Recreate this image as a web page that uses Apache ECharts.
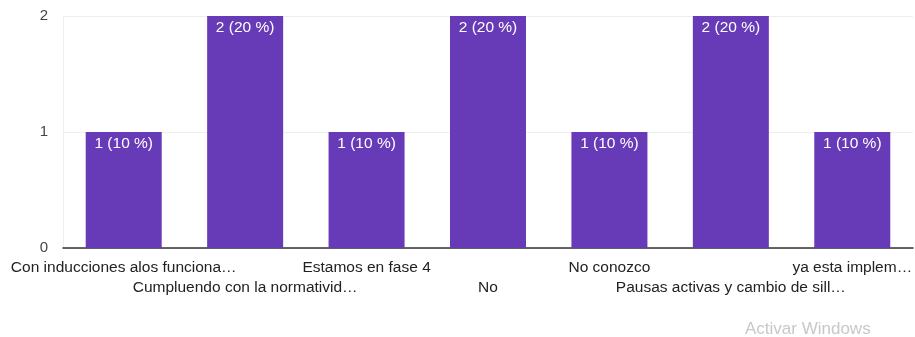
<!DOCTYPE html>
<html><head><meta charset="utf-8">
<script src="https://cdn.jsdelivr.net/npm/echarts@6/dist/echarts.min.js"></script>
<style>html,body{margin:0;padding:0;background:#fff}#c{width:915px;height:337px}</style>
</head><body><div id="c"></div>
<script>
const categories = ["Con inducciones alos funciona…","Cumpluendo con la normativid…","Estamos en fase 4","No","No conozco","Pausas activas y cambio de sill…","ya esta implem…"];
const counts = [1,2,1,2,1,2,1];
const percents = [10,20,10,20,10,20,10];
const yTicks = [0,1,2];
const chart = echarts.init(document.getElementById('c'));
chart.setOption({
  animation:false,
  textStyle:{fontFamily:'Arial, "Liberation Sans", sans-serif'},
  grid:{left:63,right:0,top:16,bottom:89},
  xAxis:{type:'category',data:categories,
    axisLine:{lineStyle:{color:'#333',width:1.5}},
    axisTick:{show:false},
    axisLabel:{interval:0,color:'#222',fontSize:15.5,margin:10,lineHeight:20,
      formatter:(v,i)=> i%2===1 ? '\n'+v : v}},
  yAxis:{type:'value',min:0,max:2,interval:1,
    axisLine:{show:true,lineStyle:{color:'#eee'}},
    splitLine:{lineStyle:{color:'#eee'}},
    axisLabel:{color:'#444',fontSize:15,margin:15}},
  series:[{type:'bar',data:counts,barWidth:76,
    itemStyle:{color:'#673ab7'},
    label:{show:true,position:'insideTop',distance:4,color:'#fff',fontSize:15.5,
      formatter:p=>counts[p.dataIndex]+' ('+percents[p.dataIndex]+' %)'}}],
  graphic:[{type:'text',left:745,top:321,style:{text:'Activar Windows',fill:'#c8c8c8',fontSize:17,fontFamily:'Arial, "Liberation Sans", sans-serif'}}]
});
</script></body></html>
